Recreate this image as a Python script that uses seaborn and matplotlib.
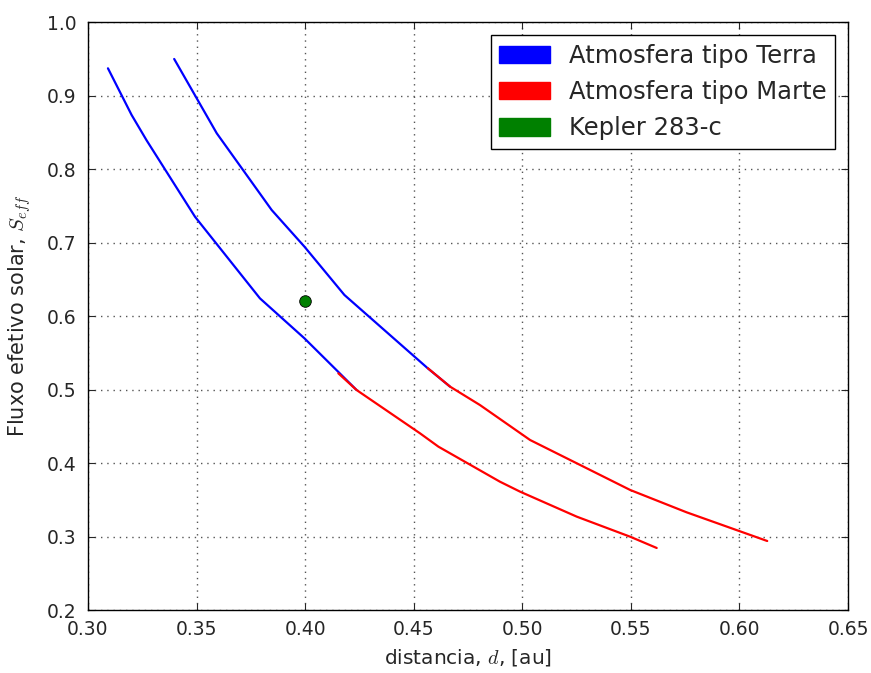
import numpy as np
import pandas as pd
import matplotlib
matplotlib.use("Agg")
import matplotlib.pyplot as plt
from matplotlib.patches import Patch
import seaborn as sns

# Data
terra_inner_d = [0.3092, 0.3201, 0.3270, 0.3493, 0.3792, 0.3997, 0.4237]
terra_inner_s = [0.937, 0.8735, 0.839, 0.735, 0.624, 0.5696, 0.4993]
terra_outer_d = [0.3397, 0.3593, 0.3846, 0.3997, 0.4181, 0.4565, 0.4667]
terra_outer_s = [0.9497, 0.8486, 0.7442, 0.6943, 0.6286, 0.5288, 0.504]
marte_inner_d = [0.4153, 0.4237, 0.4529, 0.4614, 0.4897, 0.4990, 0.5251, 0.5497, 0.5619]
marte_inner_s = [0.522, 0.4993, 0.4404, 0.4222, 0.3746, 0.361, 0.327, 0.2997, 0.2844]
marte_outer_d = [0.4565, 0.4667, 0.4805, 0.5036, 0.5251, 0.5497, 0.5756, 0.6128]
marte_outer_s = [0.529, 0.504, 0.4789, 0.4313, 0.3996, 0.3633, 0.333, 0.2939]
kepler_d = [0.40]
kepler_s = [0.62]

labels = ["Atmosfera tipo Terra", "Atmosfera tipo Marte", "Kepler 283-c"]
colors = ["blue", "red", "green"]
xticks = [0.30, 0.35, 0.40, 0.45, 0.50, 0.55, 0.60, 0.65]
yticks = [0.2, 0.3, 0.4, 0.5, 0.6, 0.7, 0.8, 0.9, 1.0]

sns.set_style("ticks")
plt.rcParams.update({
    "font.family": ["DejaVu Sans"],
    "mathtext.fontset": "cm",
    "xtick.direction": "in",
    "ytick.direction": "in",
    "xtick.top": True,
    "ytick.right": True,
    "xtick.major.size": 5,
    "ytick.major.size": 5,
    "axes.edgecolor": "black",
    "axes.linewidth": 1.0,
})

fig = plt.figure(figsize=(8.71, 6.73), dpi=100)
ax = fig.add_axes([0.101, 0.0936, 0.8726, 0.8737])

def seg(d, s, name):
    return pd.DataFrame({"d": d, "s": s, "seg": name})

df = pd.concat([
    seg(terra_inner_d, terra_inner_s, "ti"),
    seg(terra_outer_d, terra_outer_s, "to"),
    seg(marte_inner_d, marte_inner_s, "mi"),
    seg(marte_outer_d, marte_outer_s, "mo"),
], ignore_index=True)

pal = {"ti": "blue", "to": "blue", "mi": "red", "mo": "red"}
for name in ["ti", "to", "mi", "mo"]:
    sub = df[df["seg"] == name]
    sns.lineplot(data=sub, x="d", y="s", color=pal[name], sort=False,
                 estimator=None, linewidth=1.6, ax=ax, legend=False)

sns.scatterplot(x=kepler_d, y=kepler_s, color="green", edgecolor="black",
                linewidth=0.6, s=70, ax=ax, zorder=5, legend=False)

ax.set_xlim(0.30, 0.65)
ax.set_ylim(0.2, 1.0)
ax.set_xticks(xticks)
ax.set_yticks(yticks)
ax.set_xticklabels([f"{v:.2f}" for v in xticks])
ax.set_yticklabels([f"{v:.1f}" for v in yticks])
ax.tick_params(labelsize=13.5)
ax.tick_params(axis="x", pad=7)
ax.tick_params(axis="y", pad=8)
ax.grid(True, color="#555555", linestyle=(0, (1, 3.5)), linewidth=1.0)
ax.set_axisbelow(True)

ax.set_xlabel(r"distancia, $d$, [au]", fontsize=14.5, labelpad=6)
ax.set_ylabel(r"Fluxo efetivo solar, $S_{eff}$", fontsize=15, labelpad=10)

handles = [Patch(facecolor=c, edgecolor=c, label=l) for c, l in zip(colors, labels)]
leg = ax.legend(handles=handles, loc="upper right", fontsize=17.5, fancybox=False,
                framealpha=1, edgecolor="black", borderpad=0.35, handlelength=2.1,
                handleheight=0.75, handletextpad=0.75, labelspacing=0.5,
                borderaxespad=0.55)
leg.get_frame().set_linewidth(1.0)

fig.savefig("out.png", dpi=100)
